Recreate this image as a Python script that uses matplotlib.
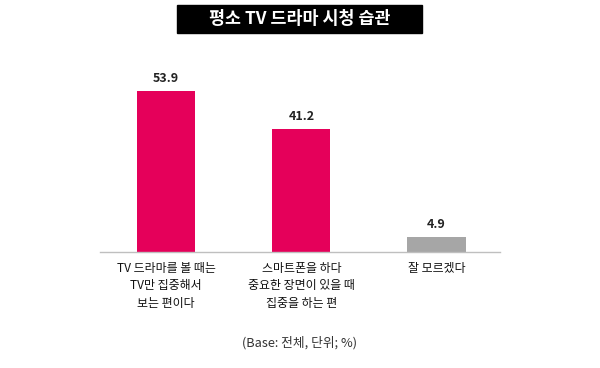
import matplotlib
matplotlib.use("Agg")
import matplotlib.pyplot as plt
from matplotlib.patches import Rectangle

plt.rcParams['font.family'] = ['Noto Sans CJK KR', 'DejaVu Sans']

title = "평소 TV 드라마 시청 습관"
categories = ["TV 드라마를 볼 때는\nTV만 집중해서\n보는 편이다",
              "스마트폰을 하다\n중요한 장면이 있을 때\n집중을 하는 편",
              "잘 모르겠다"]
values = [53.9, 41.2, 4.9]
colors = ["#E5005A", "#E5005A", "#A6A6A6"]
note = "(Base: 전체, 단위; %)"

fig = plt.figure(figsize=(6, 3.68), dpi=100)
ax = fig.add_axes([100 / 600, 1 - 252 / 368, 400 / 600, 192 / 368])

x = range(len(values))
ax.bar(x, values, width=0.43, color=colors)
for xi, v in zip(x, values):
    ax.text(xi, v + 2.0, f"{v:.1f}", ha="center", va="bottom",
            fontsize=9, fontweight="bold", color="#222222")

ax.set_xlim(-0.49, 2.47)
ax.set_ylim(0, 64.3)
for s in ["top", "right", "left"]:
    ax.spines[s].set_visible(False)
ax.spines["bottom"].set_color("#BFBFBF")
ax.spines["bottom"].set_linewidth(1)
ax.set_yticks([])
ax.set_xticks(list(x))
ax.set_xticklabels(categories, fontsize=8.6, linespacing=1.45, color="#111111")
ax.tick_params(axis="x", length=0, pad=7)

# title box
fig.patches.append(Rectangle((177 / 600, 1 - 33 / 368), 245 / 600, 28 / 368,
                             transform=fig.transFigure, color="black", zorder=0))
fig.text(0.5, 1 - 19 / 368, title, ha="center", va="center",
         fontsize=12.5, fontweight="bold", color="white")

fig.text(0.5, 1 - 343 / 368, note, ha="center", va="center",
         fontsize=9.2, color="#333333")

fig.savefig("out.png", dpi=100, facecolor="white")
